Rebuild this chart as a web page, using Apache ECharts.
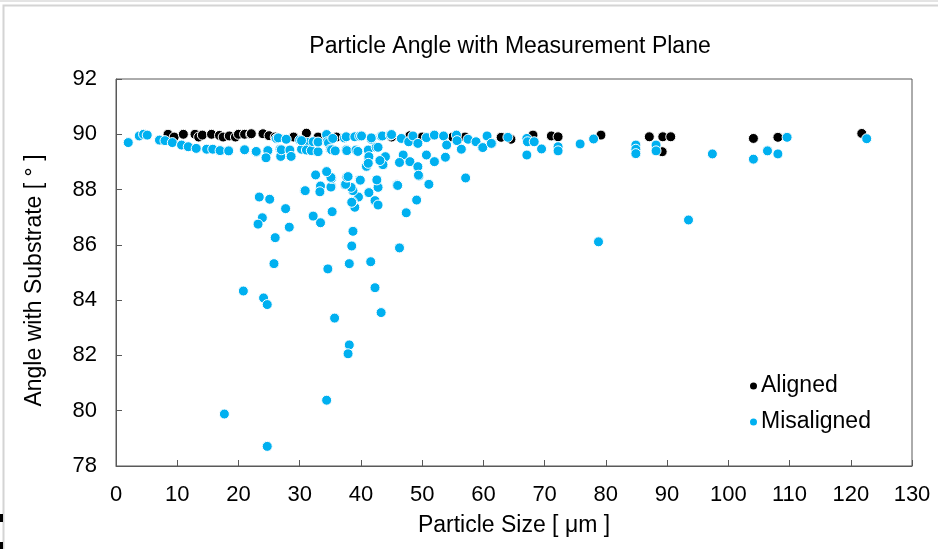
<!DOCTYPE html>
<html>
<head>
<meta charset="utf-8">
<script src="https://cdn.jsdelivr.net/npm/echarts@6/dist/echarts.min.js"></script>
<style>
html,body{margin:0;padding:0;background:#fff;}
#chart{width:938px;height:549px;}
</style>
</head>
<body>
<div id="chart"></div>
<script>
var titleText = "Particle Angle with Measurement Plane";
var xAxisName = "Particle Size [ μm ]";
var yAxisName = "Angle with Substrate [ ° ]";
var seriesNames = ["Aligned", "Misaligned"];

var alignedPoints = [
  [8.5,90.0],[9.5,89.9],[11.0,90.0],[12.9,90.0],[13.5,89.9],[14.1,89.97],[15.6,90.0],[16.9,89.96],
  [17.5,89.9],[18.5,89.94],[19.5,89.9],[20.0,90.0],[21.0,90.0],[22.0,90.0],[22.1,90.02],[24.0,90.02],
  [25.0,89.95],[26.0,89.9],[29.0,89.9],[31.1,90.04],[33.0,89.9],[36.0,89.9],[40.0,89.95],[45.0,89.9],
  [48.0,89.95],[50.0,89.9],[55.0,89.9],[57.0,89.9],[62.9,89.89],[64.5,89.82],[68.1,89.97],[71.1,89.94],
  [72.2,89.91],[79.2,89.97],[87.1,89.91],[89.3,89.91],[90.6,89.91],[89.2,89.37],[104.1,89.85],
  [108.1,89.89],[121.8,90.03]
];

var misalignedPoints = [
  // near-90 band
  [2.0,89.7],[3.8,89.94],[4.5,90.0],[5.1,89.97],[7.1,89.79],[8.0,89.77],[9.2,89.7],[10.7,89.61],
  [11.8,89.55],[13.1,89.49],[14.8,89.46],[15.8,89.46],[17.0,89.41],[18.4,89.40],[21.0,89.43],
  [21.0,89.44],[22.9,89.35],[22.9,89.38],[24.8,89.41],[24.5,89.15],[26.8,89.46],[26.9,89.2],[27.0,89.44],
  [28.4,89.43],[28.6,89.2],[30.3,89.46],[26.2,89.85],[26.5,89.87],[27.8,89.82],[30.0,89.79],[31.3,89.7],
  [30.3,89.77],[31.1,89.43],[31.9,89.41],[32.2,89.73],[33.0,89.7],[33.0,89.37],[33.0,89.72],[34.4,89.97],
  [34.4,89.99],[34.5,89.73],[34.7,89.69],[35.0,89.46],[35.2,89.44],[35.4,89.85],[35.8,89.4],[37.3,89.87],
  [37.6,89.91],[37.6,89.44],[37.7,89.41],[39.0,89.91],[39.2,89.43],[39.5,89.38],[39.8,89.93],[40.1,89.94],
  [41.2,89.43],[41.2,89.14],[41.3,89.19],[41.7,89.82],[41.7,89.87],[42.5,89.53],[42.8,89.53],[43.3,89.93],
  [43.5,89.94],[43.9,89.17],[44.0,89.19],[44.8,89.97],[45.0,89.99],[46.6,89.85],[46.9,89.25],[47.8,89.73],
  [48.0,89.01],[48.5,89.94],[49.3,89.67],[49.3,88.83],[50.7,89.88],[50.7,89.25],[52.0,89.97],[52.0,89.01],
  [53.5,89.94],[53.8,89.17],[54.0,89.61],[55.6,89.97],[55.7,89.77],[56.4,89.46],[57.5,89.82],[58.8,89.73],
  [59.8,89.52],[59.9,89.52],[60.6,89.94],[61.4,89.67],[61.3,89.67],[64.0,89.89],[67.1,89.85],[67.2,89.73],
  [67.1,89.25],[68.3,89.73],[69.5,89.47],[72.2,89.55],[72.2,89.4],[75.8,89.65],[78.0,89.83],[84.9,89.61],
  [84.9,89.46],[84.9,89.3],[88.2,89.61],[88.2,89.4],[97.4,89.29],[104.1,89.1],[106.4,89.4],[108.1,89.29],
  [109.6,89.89],[122.6,89.84],
  // mid cluster
  [46.3,88.98],[43.6,88.89],[43.6,88.9],[40.9,88.83],[40.9,88.84],[43.1,89.05],[41.2,88.95],[49.5,88.49],
  [49.4,88.52],[51.1,88.19],[57.1,88.42],[45.9,88.17],[46.0,88.15],[42.8,88.08],[42.6,88.35],[41.3,87.89],
  [42.3,87.6],[42.8,87.44],[39.8,88.35],[39.9,88.34],[39.6,87.73],[39.0,87.36],[38.7,87.96],[38.6,87.56],
  [38.5,87.54],[38.4,88.08],[37.4,88.17],[37.5,88.19],[37.7,88.45],[37.9,88.47],[35.2,88.1],[35.1,88.09],
  [35.2,88.4],[35.1,88.44],[33.4,88.13],[33.3,87.92],[32.6,88.53],[34.4,88.65],[30.8,87.96],[30.9,87.96],
  [32.2,87.04],[33.4,86.8],[35.3,87.2],[47.4,87.16],[49.1,87.62],
  // lower scatter
  [38.7,86.49],[38.5,85.96],[38.1,85.32],[46.3,85.89],[43.3,83.55],[42.3,84.45],[41.6,85.39],[38.1,82.38],
  [37.9,82.06],[35.7,83.35],[34.6,85.13],[34.4,80.38],[28.3,86.64],[27.7,87.31],[26.0,86.26],[25.8,85.32],
  [25.1,87.65],[23.4,87.73],[23.9,86.98],[23.2,86.75],[20.8,84.33],[24.1,84.08],[24.7,83.84],[17.7,79.88],
  [24.7,78.71],[78.8,86.11],[93.5,86.9]
];

var xMin = 0, xMax = 130, xStep = 10;
var yMin = 78, yMax = 92, yStep = 2;

var chart = echarts.init(document.getElementById('chart'), null, {renderer:'canvas'});
var fontFam = '"Liberation Sans", Arial, sans-serif';
var axisColor = '#595959';

chart.setOption({
  backgroundColor: '#ffffff',
  animation: false,
  title: {
    text: titleText,
    left: 505, top: 30, textAlign: 'center',
    textStyle: {fontFamily: fontFam, fontSize: 23, fontWeight: 'normal', color: '#000'}
  },
  legend: {
    orient: 'vertical',
    left: 743, top: 369,
    itemWidth: 9, itemHeight: 9, itemGap: 12,
    icon: 'circle',
    textStyle: {fontFamily: fontFam, fontSize: 23, lineHeight: 24, color: '#000', padding: [0,0,0,-2]},
    data: seriesNames
  },
  graphic: [
    {type:'rect', shape:{x:3.5,y:5.5,width:945,height:560}, style:{fill:'none', stroke:'#d4d4d4', lineWidth:2}, z:-1},
    {type:'rect', shape:{x:0,y:0,width:938,height:2}, style:{fill:'#e4e4e4'}},
    {type:'rect', shape:{x:0,y:514,width:3,height:8}, style:{fill:'#000'}},
    {type:'rect', shape:{x:0,y:542,width:3,height:7}, style:{fill:'#000'}}
  ],
  grid: {
    left: 116, top: 79, right: 26, bottom: 83,
    show: true, borderColor: axisColor, borderWidth: 1, backgroundColor: 'transparent'
  },
  xAxis: {
    type: 'value', min: xMin, max: xMax, interval: xStep,
    name: xAxisName, nameLocation: 'middle', nameGap: 48,
    nameTextStyle: {fontFamily: fontFam, fontSize: 23, color: '#000'},
    axisLine: {show: true, lineStyle: {color: axisColor, width: 1}},
    axisTick: {show: true, inside: true, length: 6, lineStyle: {color: axisColor}},
    axisLabel: {fontFamily: fontFam, fontSize: 22, color: '#000', margin: 18},
    splitLine: {show: false}
  },
  yAxis: {
    type: 'value', min: yMin, max: yMax, interval: yStep,
    name: yAxisName, nameLocation: 'middle', nameGap: 70, nameRotate: 90,
    nameTextStyle: {fontFamily: fontFam, fontSize: 23, color: '#000', padding: [0,16,0,0]},
    axisLine: {show: true, lineStyle: {color: axisColor, width: 1}},
    axisTick: {show: true, inside: true, length: 6, lineStyle: {color: axisColor}},
    axisLabel: {fontFamily: fontFam, fontSize: 22, color: '#000', margin: 19},
    splitLine: {show: false}
  },
  series: [
    {
      name: seriesNames[0], type: 'scatter', data: alignedPoints,
      symbol: 'circle', symbolSize: 10,
      itemStyle: {color: '#000000', borderColor: '#ffffff', borderWidth: 1, opacity: 1}
    },
    {
      name: seriesNames[1], type: 'scatter', data: misalignedPoints,
      symbol: 'circle', symbolSize: 10,
      itemStyle: {color: '#00B0F0', borderColor: '#ffffff', borderWidth: 1, opacity: 1}
    }
  ]
});
</script>
</body>
</html>
